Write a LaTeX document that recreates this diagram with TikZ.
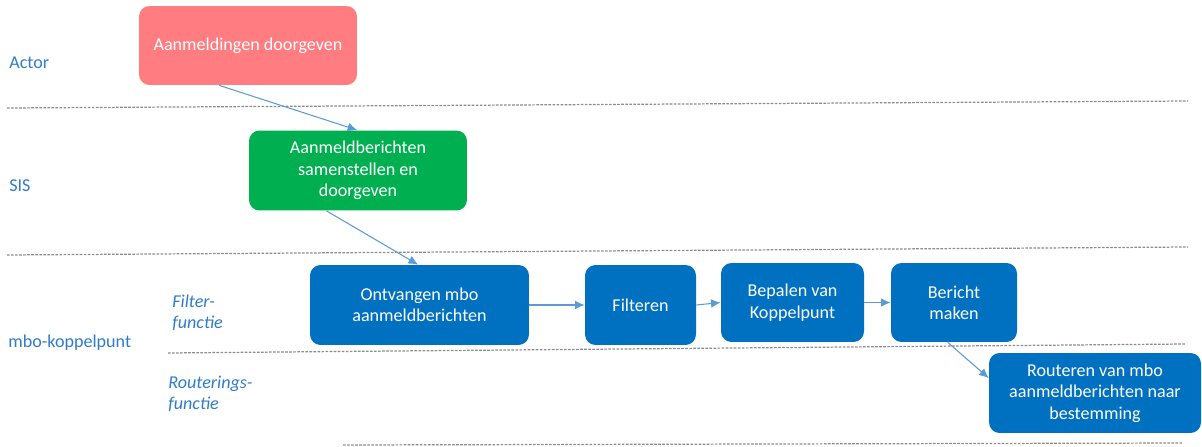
\documentclass[tikz,border=0pt]{standalone}
\usepackage{fontspec}
\setmainfont{Carlito}
\usetikzlibrary{arrows.meta}
\definecolor{pinkbox}{HTML}{FF7C80}
\definecolor{greenbox}{HTML}{00B050}
\definecolor{bluebox}{HTML}{0070C0}
\definecolor{lanetext}{HTML}{2F7CCB}
\definecolor{arrowblue}{HTML}{5B9BD5}
\definecolor{sepgray}{HTML}{8C8C8C}
\tikzset{
  procbox/.style={rectangle, rounded corners=6pt, draw=none, text=white,
    align=center, font=\fontsize{10.3}{12.2}\selectfont, inner sep=0pt},
  lanelabel/.style={anchor=west, text=lanetext, font=\fontsize{10.3}{12.2}\selectfont, inner sep=0pt},
  sublabel/.style={anchor=west, text=lanetext, align=left, font=\fontsize{10.3}{11.8}\selectfont\itshape, inner sep=0pt},
  flow/.style={draw=arrowblue, line width=0.6pt, -{Latex[length=5.5pt,width=5pt]}},
  sepline/.style={draw=sepgray, line width=0.7pt, dash pattern=on 1.5pt off 0.8pt}
}
\begin{document}
\begin{tikzpicture}[x=0.02cm, y=-0.02cm]
\useasboundingbox (0,0) rectangle (1202,446);
% separator lines
\draw[sepline] (7,108) -- (1188,101);
\draw[sepline] (7,255) -- (1188,247);
\draw[sepline] (168,353) -- (1185,344);
\draw[sepline] (343,445) -- (1183,443);
% lane labels
\node[lanelabel] (lactor) at (9,63) {Actor};
\node[lanelabel] (lsis) at (9,186) {SIS};
\node[lanelabel] (lmbo) at (8,343) {mbo-koppelpunt};
\node[sublabel] (lfilter) at (172,313) {Filter-\\functie};
\node[sublabel] (lrout) at (168,394) {Routerings-\\functie};
% boxes
\node[procbox, fill=pinkbox, minimum width=4.36cm, minimum height=1.58cm] (pink) at (248,45.5) {Aanmeldingen doorgeven};
\node[procbox, fill=greenbox, minimum width=4.36cm, minimum height=1.60cm] (green) at (358,170.5) {Aanmeldberichten\\samenstellen en\\doorgeven};
\node[procbox, fill=bluebox, minimum width=4.38cm, minimum height=1.60cm] (ontv) at (419.5,305) {Ontvangen mbo\\aanmeldberichten};
\node[procbox, fill=bluebox, minimum width=2.22cm, minimum height=1.60cm] (filt) at (640.5,305) {Filteren};
\node[procbox, fill=bluebox, minimum width=2.86cm, minimum height=1.58cm] (bep) at (792.5,302.5) {Bepalen van\\Koppelpunt};
\node[procbox, fill=bluebox, minimum width=2.52cm, minimum height=1.58cm] (ber) at (954,302.5) {Bericht\\maken};
\node[procbox, fill=bluebox, minimum width=4.24cm, minimum height=1.60cm] (rout) at (1095,393) {Routeren van mbo\\aanmeldberichten naar\\bestemming};
% connectors
\draw[flow] (pink.234.7) -- (green.91.4);
\draw[flow] (green.232.2) -- (ontv.92);
\draw[flow] (ontv.east) -- (filt.west);
\draw[flow] (filt.east) -- (bep.west);
\draw[flow] (bep.east) -- (ber.west);
\draw[flow] (ber.261.6) -- (rout.172.6);
\end{tikzpicture}
\end{document}
